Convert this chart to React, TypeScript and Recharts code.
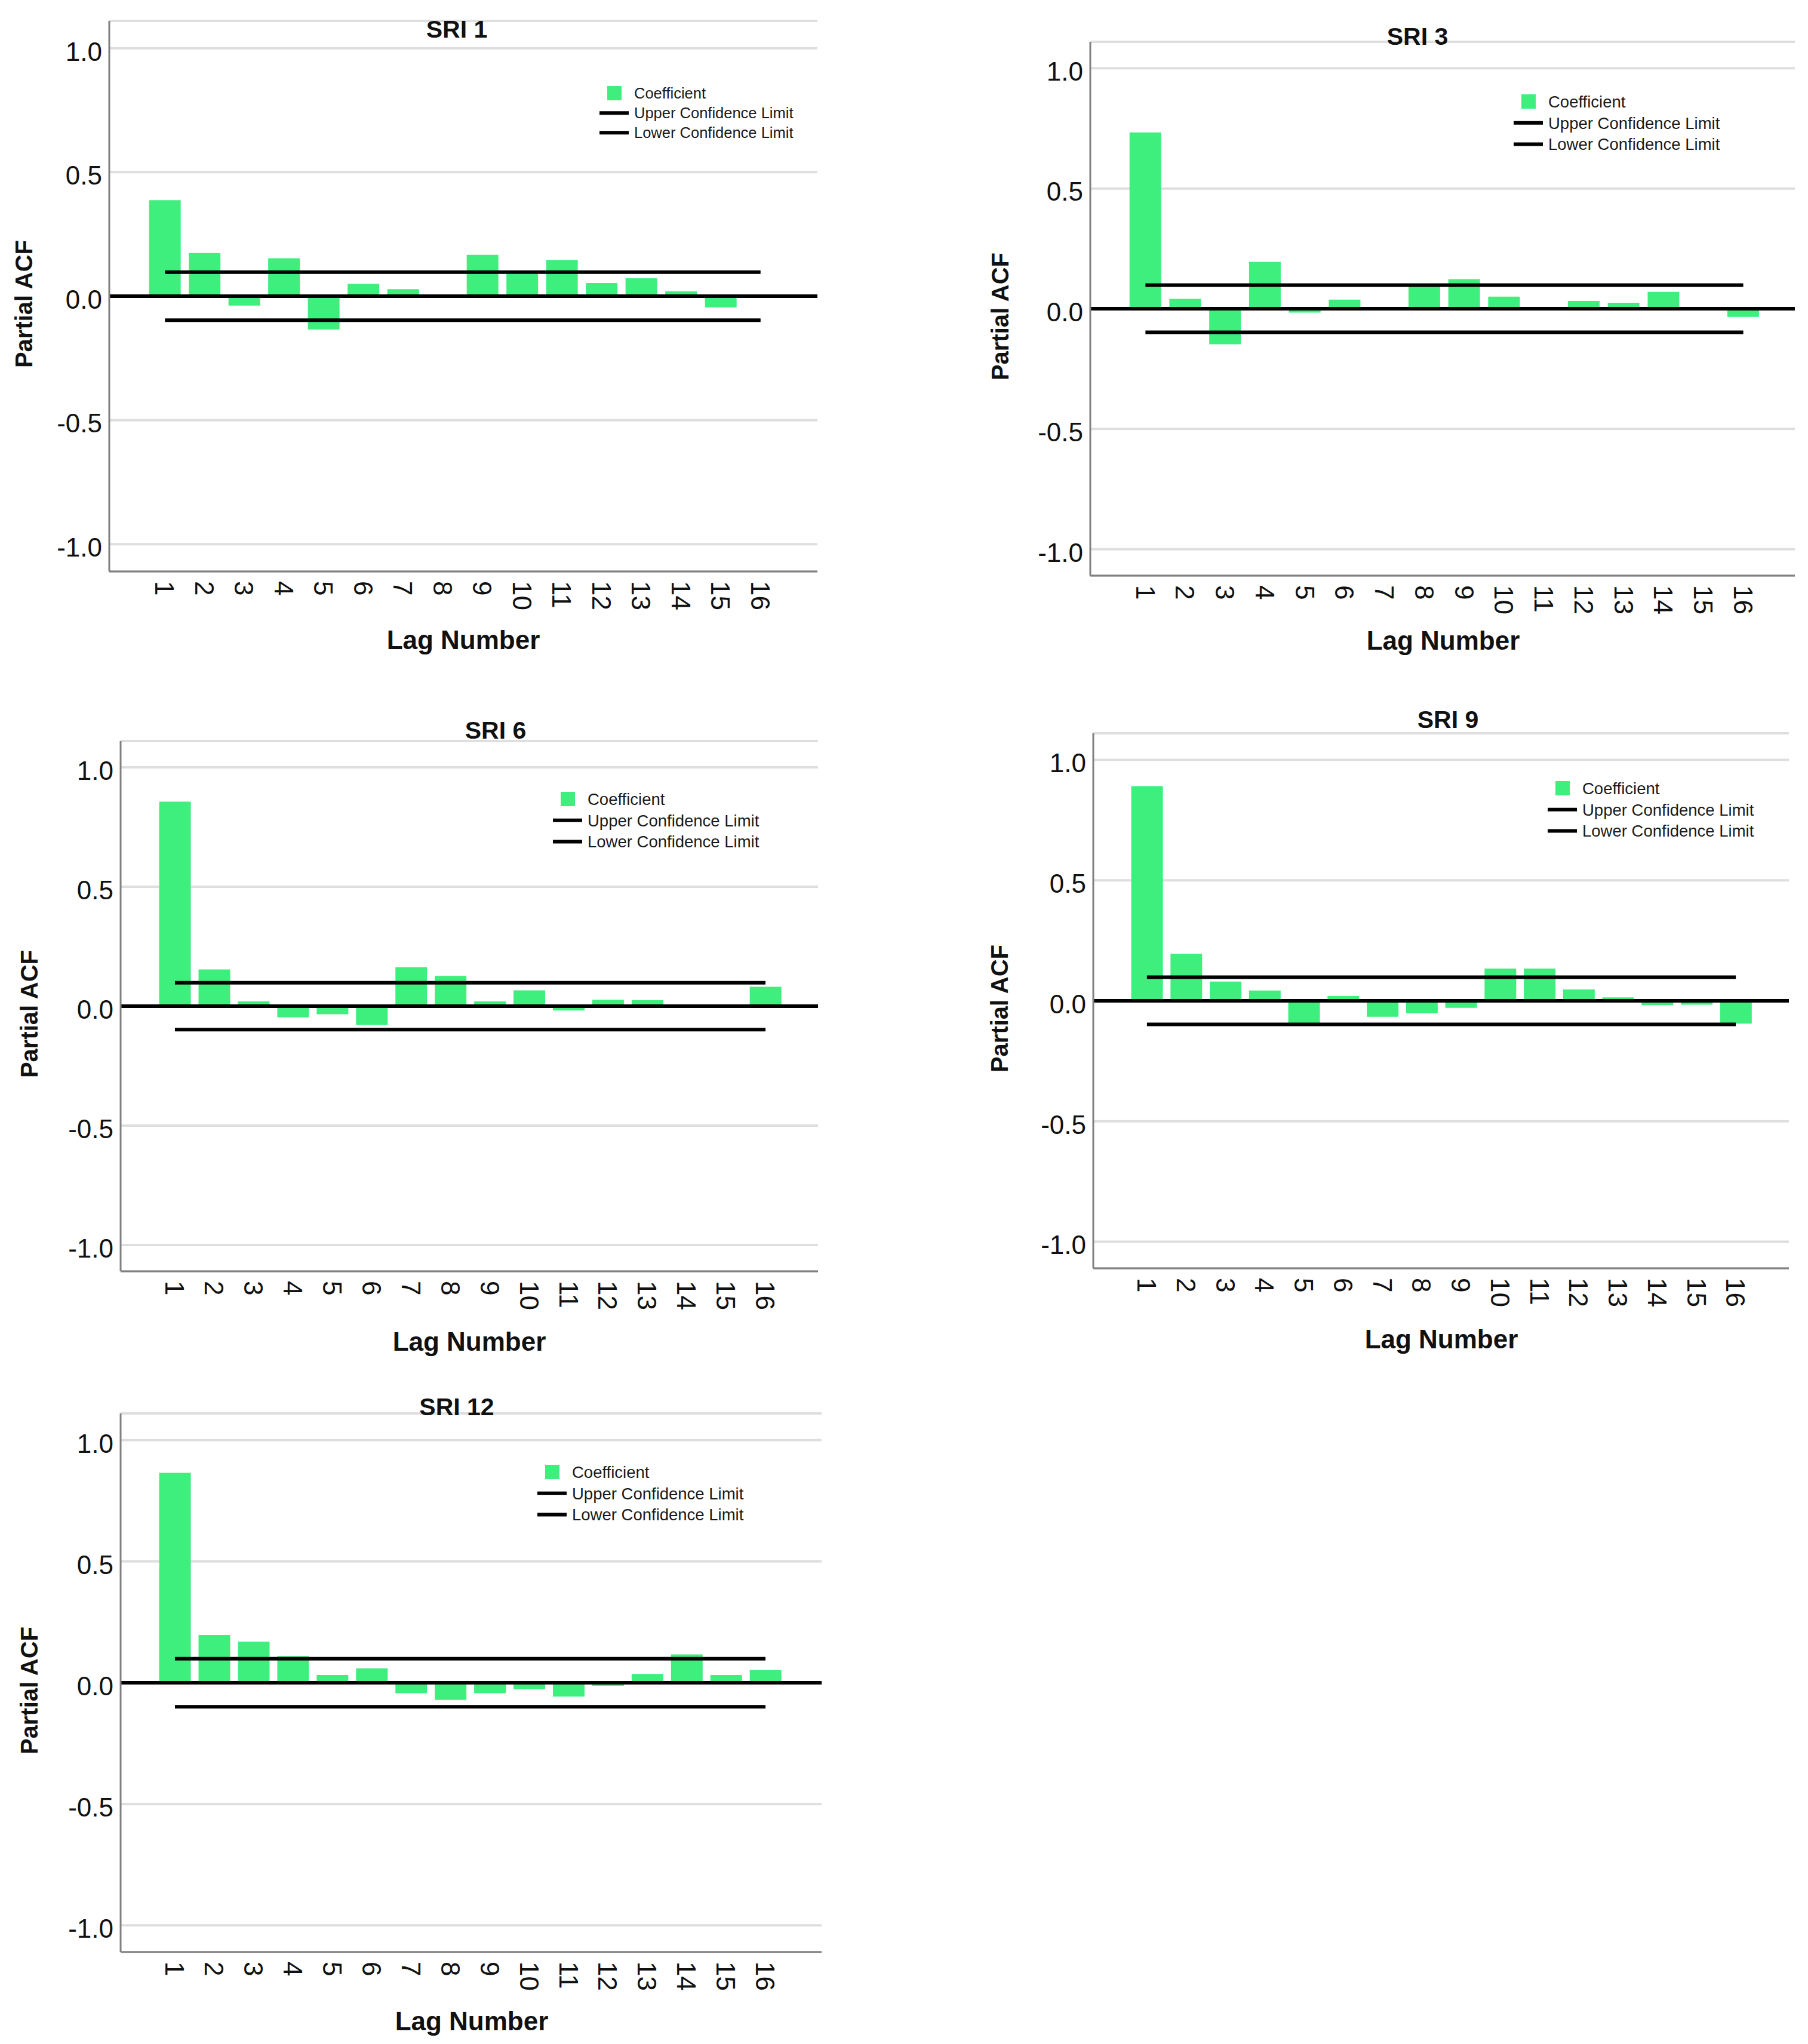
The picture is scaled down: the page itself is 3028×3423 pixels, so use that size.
import { Bar, CartesianGrid, ComposedChart, Legend, Line, ReferenceLine, XAxis, YAxis } from 'recharts';

const lags = ['1', '2', '3', '4', '5', '6', '7', '8', '9', '10', '11', '12', '13', '14', '15', '16'];

const sri1Coef = [0.387, 0.174, -0.038, 0.153, -0.134, 0.05, 0.028, 0.003, 0.167, 0.09, 0.146, 0.053, 0.072, 0.02, -0.045, -0.004];
const sri3Coef = [0.733, 0.041, -0.148, 0.195, -0.016, 0.038, 0.002, 0.093, 0.123, 0.05, 0.002, 0.032, 0.025, 0.07, -0.003, -0.034];
const sri6Coef = [0.856, 0.154, 0.02, -0.047, -0.034, -0.079, 0.163, 0.127, 0.02, 0.066, -0.018, 0.027, 0.025, 0.002, -0.007, 0.081];
const sri9Coef = [0.891, 0.195, 0.08, 0.043, -0.093, 0.02, -0.066, -0.052, -0.029, 0.134, 0.134, 0.047, 0.014, -0.018, -0.016, -0.095];
const sri12Coef = [0.865, 0.197, 0.169, 0.11, 0.032, 0.059, -0.043, -0.071, -0.043, -0.027, -0.057, -0.012, 0.036, 0.117, 0.032, 0.052];

// upper / lower confidence limit of each panel
const sri1Limits = [0.097, -0.097];
const sri3Limits = [0.098, -0.098];
const sri6Limits = [0.098, -0.098];
const sri9Limits = [0.098, -0.098];
const sri12Limits = [0.099, -0.099];

const yTicks = [-1, -0.5, 0, 0.5, 1];
const legendLabels = ['Coefficient', 'Upper Confidence Limit', 'Lower Confidence Limit'];

const GREEN = '#3fef7e';
const FONT = '"Liberation Sans", Arial, sans-serif';
const Y_AXIS_W = 120;
const X_AXIS_H = 80;

type Layout = {
  plot: { left: number; right: number; top: number; bottom: number };
  pad: [number, number];
  title: [number, number];
  yLabelX: number;
  xLabel: [number, number];
  legend: { textX: number; rows: [number, number, number]; font: number };
};

type Panel = { title: string; coef: number[]; limits: number[]; layout: Layout };

const panels: Panel[] = [
  {
    title: 'SRI 1',
    coef: sri1Coef,
    limits: sri1Limits,
    layout: {
      plot: { left: 183, right: 1369, top: 35, bottom: 957 },
      pad: [60, 62],
      title: [765, 63],
      yLabelX: 40,
      xLabel: [776, 1087],
      legend: { textX: 1062, rows: [156, 189, 222], font: 25.5 }
    }
  },
  {
    title: 'SRI 3',
    coef: sri3Coef,
    limits: sri3Limits,
    layout: {
      plot: { left: 1826, right: 3006, top: 70, bottom: 964 },
      pad: [59, 53],
      title: [2374, 75],
      yLabelX: 1675,
      xLabel: [2417, 1088],
      legend: { textX: 2593, rows: [170, 204, 237], font: 27.5 }
    }
  },
  {
    title: 'SRI 6',
    coef: sri6Coef,
    limits: sri6Limits,
    layout: {
      plot: { left: 202, right: 1370, top: 1241, bottom: 2129 },
      pad: [58, 55],
      title: [830, 1237],
      yLabelX: 49,
      xLabel: [786, 2262],
      legend: { textX: 984, rows: [1338, 1374, 1410], font: 27.5 }
    }
  },
  {
    title: 'SRI 9',
    coef: sri9Coef,
    limits: sri9Limits,
    layout: {
      plot: { left: 1831, right: 2996, top: 1228, bottom: 2124 },
      pad: [57, 56],
      title: [2425, 1219],
      yLabelX: 1674,
      xLabel: [2414, 2258],
      legend: { textX: 2650, rows: [1320, 1358, 1396], font: 27.5 }
    }
  },
  {
    title: 'SRI 12',
    coef: sri12Coef,
    limits: sri12Limits,
    layout: {
      plot: { left: 202, right: 1376, top: 2367, bottom: 3269 },
      pad: [58, 61],
      title: [765, 2370],
      yLabelX: 49,
      xLabel: [790, 3400],
      legend: { textX: 958, rows: [2465, 2502, 2538], font: 27.5 }
    }
  }
];

function LagTick(props: any) {
  const { x, y, payload } = props;
  return (
    <text x={x} y={y} dy="0.36em" transform={`rotate(90 ${x} ${y})`} textAnchor="start" fontSize={44} fontFamily={FONT} fill="#111">
      {payload.value}
    </text>
  );
}

function AcfTick(props: any) {
  const { x, y, payload } = props;
  return (
    <text x={x} y={y + 5} dy="0.36em" textAnchor="end" fontSize={44} fontFamily={FONT} fill="#111">
      {Number(payload.value).toFixed(1)}
    </text>
  );
}

function AcfLegend({ font }: { font: number }) {
  const rowGap = font * 1.3;
  return (
    <svg width={420} height={130} style={{ overflow: 'visible', display: 'block' }}>
      <rect x={25} y={20 - 12} width={24} height={24} fill={GREEN} />
      <line x1={12} x2={61} y1={20 + rowGap} y2={20 + rowGap} stroke="#000" strokeWidth={6} />
      <line x1={12} x2={61} y1={20 + rowGap * 2} y2={20 + rowGap * 2} stroke="#000" strokeWidth={6} />
      {legendLabels.map((label, i) => (
        <text key={label} x={70} y={20 + rowGap * i} dy="0.36em" fontSize={font} fontFamily={FONT} fill="#1a1a1a">
          {label}
        </text>
      ))}
    </svg>
  );
}

function AcfPanel({ panel }: { panel: Panel }) {
  const { plot, pad, legend } = panel.layout;
  const chartLeft = plot.left - Y_AXIS_W;
  const chartTop = plot.top - 10;
  const width = plot.right - chartLeft + 10;
  const height = plot.bottom - chartTop + X_AXIS_H;
  const rows = lags.map((lag, i) => ({
    lag,
    coef: panel.coef[i],
    upper: panel.limits[0],
    lower: panel.limits[1]
  }));

  return (
    <div style={{ position: 'absolute', left: chartLeft, top: chartTop, width, height }}>
      <ComposedChart
        width={width}
        height={height}
        data={rows}
        margin={{ top: 10, right: 10, bottom: 0, left: 0 }}
        barCategoryGap="10%"
      >
        <CartesianGrid horizontal vertical={false} stroke="#dedede" strokeWidth={4} />
        <XAxis
          dataKey="lag"
          type="category"
          interval={0}
          height={X_AXIS_H}
          padding={{ left: pad[0], right: pad[1] }}
          axisLine={{ stroke: '#808080', strokeWidth: 3 }}
          tickLine={false}
          tickSize={0}
          tickMargin={16}
          tick={<LagTick />}
        />
        <YAxis
          type="number"
          domain={[-1.11, 1.11]}
          ticks={yTicks}
          allowDataOverflow
          width={Y_AXIS_W}
          axisLine={{ stroke: '#808080', strokeWidth: 3 }}
          tickLine={false}
          tickSize={0}
          tickMargin={12}
          tick={<AcfTick />}
        />
        <Legend
          layout="horizontal"
          verticalAlign="middle"
          align="center"
          wrapperStyle={{ left: legend.textX - 70 - chartLeft, top: legend.rows[0] - 20 - chartTop, width: 420 }}
          content={() => <AcfLegend font={legend.font} />}
        />
        <Bar dataKey="coef" name="Coefficient" fill={GREEN} isAnimationActive={false} />
        <ReferenceLine y={0} stroke="#000" strokeWidth={6} />
        <Line dataKey="upper" name="Upper Confidence Limit" stroke="#000" strokeWidth={6} dot={false} activeDot={false} isAnimationActive={false} />
        <Line dataKey="lower" name="Lower Confidence Limit" stroke="#000" strokeWidth={6} dot={false} activeDot={false} isAnimationActive={false} />
      </ComposedChart>
    </div>
  );
}

export default function App() {
  return (
    <div style={{ position: 'absolute', left: 0, top: 0, width: 3028, height: 3423, background: '#fff', overflow: 'hidden' }}>
      {panels.map((panel) => (
        <AcfPanel key={panel.title} panel={panel} />
      ))}
      <svg width={3028} height={3423} style={{ position: 'absolute', left: 0, top: 0, pointerEvents: 'none' }}>
        {panels.map((panel) => {
          const { plot, title, yLabelX, xLabel } = panel.layout;
          const zeroY = (plot.top + plot.bottom) / 2;
          return (
            <g key={panel.title} fontFamily={FONT} fontWeight="bold" fill="#111">
              <text x={title[0]} y={title[1]} textAnchor="middle" fontSize={41}>
                {panel.title}
              </text>
              <text x={xLabel[0]} y={xLabel[1]} textAnchor="middle" fontSize={44}>
                Lag Number
              </text>
              <text
                x={yLabelX}
                y={zeroY + 13}
                dy="0.36em"
                textAnchor="middle"
                fontSize={40}
                transform={`rotate(-90 ${yLabelX} ${zeroY + 13})`}
              >
                Partial ACF
              </text>
            </g>
          );
        })}
      </svg>
    </div>
  );
}
